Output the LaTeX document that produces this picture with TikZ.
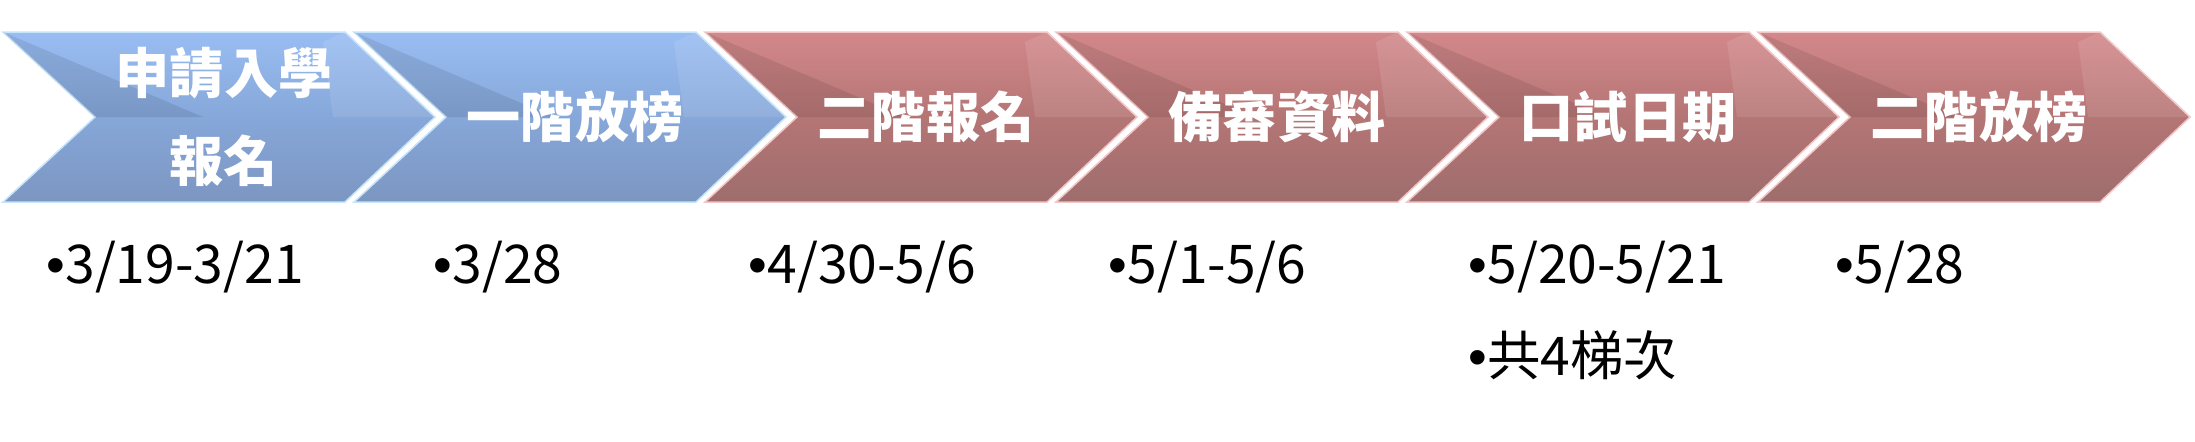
\documentclass[tikz,border=0pt]{standalone}
\usepackage{fontspec}
\setmainfont{Noto Sans CJK TC}
\newfontfamily\bulletfont{Liberation Sans}
\usetikzlibrary{shadings}

\definecolor{chevblueT}{HTML}{99BDF3}
\definecolor{chevblueM}{HTML}{86A7D9}
\definecolor{chevblueB}{HTML}{7C96C1}
\definecolor{chevblueE}{HTML}{C6E4FA}
\definecolor{chevredT}{HTML}{D3888A}
\definecolor{chevredM}{HTML}{B57575}
\definecolor{chevredB}{HTML}{9E6D6D}
\definecolor{chevredE}{HTML}{F2C6C6}

\newcommand{\bul}{{\bulletfont •}}

\begin{document}
\begin{tikzpicture}[x=0.1mm, y=-0.1mm]
	\tikzset{
		blue chevron/.style={top color=chevblueT, bottom color=chevblueB, middle color=chevblueM, draw=chevblueE, line width=0.15mm},
		red chevron/.style={top color=chevredT, bottom color=chevredB, middle color=chevredM, draw=chevredE, line width=0.15mm},
		dark bevel/.style={fill=black, opacity=.09},
		light bevel/.style={fill=white, opacity=.10},
		stage text/.style={text=white, font=\bfseries\fontsize{15.4pt}{25pt}\selectfont, align=center, inner sep=0pt},
		date text/.style={anchor=base west, font=\fontsize{15.2pt}{26pt}\selectfont, inner sep=0pt}
	}
	\useasboundingbox (0,0) rectangle (2195,441);
	
	% Chevrons of the schedule
	\foreach \i/\name/\stage/\sty in {0/apply/{申請入學\\報名}/blue, 1/first/一階放榜/blue, 2/second/二階報名/red, 3/docs/備審資料/red, 4/oral/口試日期/red, 5/final/二階放榜/red} {
		\pgfmathsetmacro{\x}{3+351*\i}
		\filldraw[\sty\space chevron] (\x,32) -- ++(342,0) -- ++(90,85) -- ++(-90,85) -- ++(-342,0) -- ++(92,-85) -- cycle;
		\fill[dark bevel] (\x,32) -- (\x+92,117) -- (\x+200,117) -- cycle;
		\fill[light bevel] (\x+342,32) -- (\x+432,117) -- (\x+330,117) -- (\x+320,42) -- cycle;
		\node[stage text] (\name) at (\x+221,117) {\stage};
	}
	
	% Dates below
	\node[date text] (d1) at (46,283) {\bul3/19-3/21};
	\node[date text] (d2) at (433,283) {\bul3/28};
	\node[date text] (d3) at (748,283) {\bul4/30-5/6};
	\node[date text] (d4) at (1108,283) {\bul5/1-5/6};
	\node[date text] (d5) at (1468,283) {\bul5/20-5/21};
	\node[date text] (d5b) at (1468,375) {\bul 共4梯次};
	\node[date text] (d6) at (1835,283) {\bul5/28};
\end{tikzpicture}
\end{document}
